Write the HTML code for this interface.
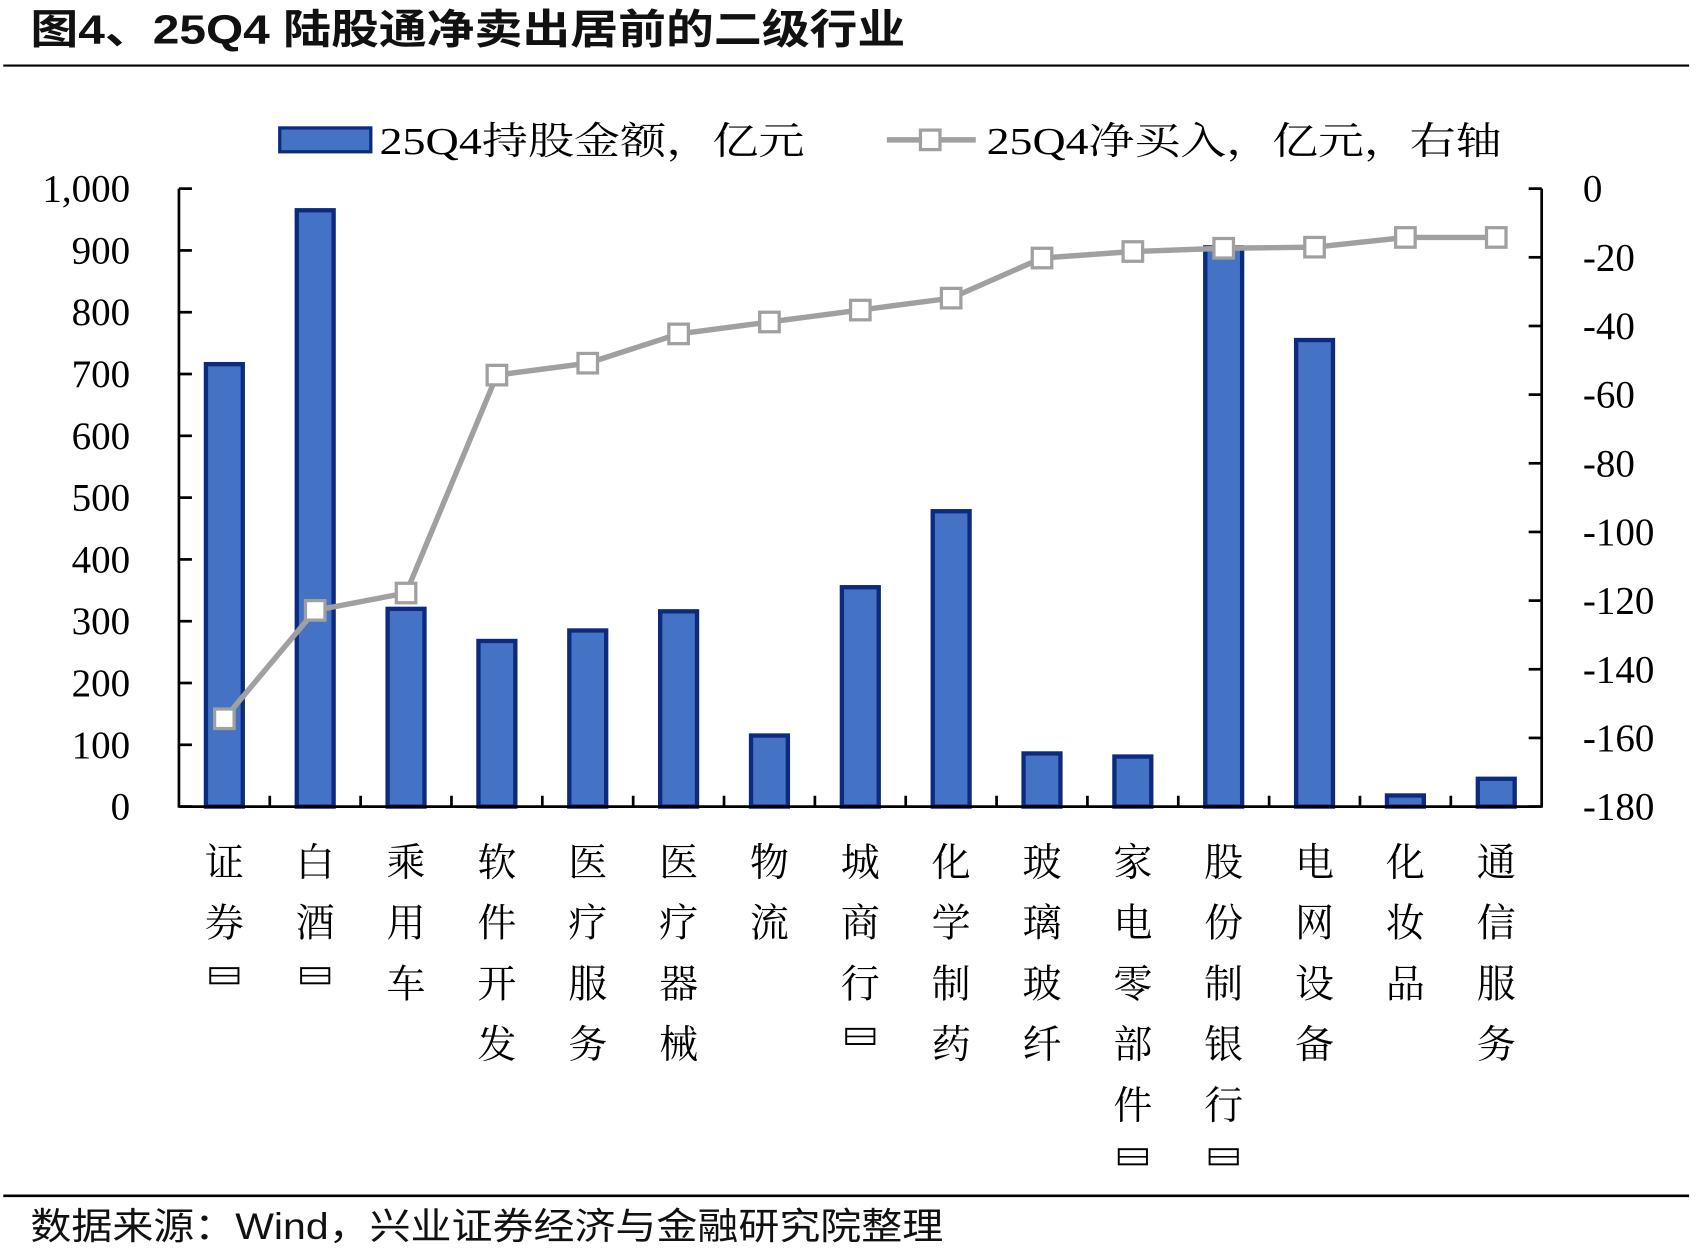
<!DOCTYPE html>
<html><head><meta charset="utf-8"><style>html,body{margin:0;padding:0;background:#fff}svg{display:block}</style></head>
<body>
<svg width="1700" height="1250" viewBox="0 0 1568 1153" xmlns="http://www.w3.org/2000/svg">
<rect width="1568" height="1153" fill="#fff"/>
<text x="28" y="40" textLength="807" lengthAdjust="spacingAndGlyphs" font-family="'Liberation Sans','Noto Sans CJK SC',sans-serif" font-weight="bold" font-size="38" fill="#111">图4、25Q4 陆股通净卖出居前的二级行业</text>
<line x1="3" y1="60.5" x2="1558" y2="60.5" stroke="#000" stroke-width="2"/>
<line x1="3" y1="1103" x2="1558" y2="1103" stroke="#000" stroke-width="2.5"/>
<text x="28" y="1143" textLength="842" lengthAdjust="spacingAndGlyphs" font-family="'Liberation Sans','Noto Sans CJK SC',sans-serif" font-size="34" fill="#111">数据来源：Wind，兴业证券经济与金融研究院整理</text>
<g font-family="'Liberation Serif','Noto Serif CJK SC',serif" font-size="35" fill="#000">
<rect x="258" y="118" width="84" height="22" fill="#4472C4" stroke="#0C2B7E" stroke-width="3"/>
<text x="350" y="142" textLength="392" lengthAdjust="spacingAndGlyphs">25Q4持股金额，亿元</text>
<line x1="818" y1="129" x2="900" y2="129" stroke="#A0A0A0" stroke-width="5"/>
<rect x="849" y="120" width="18" height="18" fill="#fff" stroke="#A0A0A0" stroke-width="3"/>
<text x="910" y="142" textLength="475" lengthAdjust="spacingAndGlyphs">25Q4净买入，亿元，右轴</text>
</g>
<g id="chart"></g>
<script>
const g=document.getElementById('chart');const NS='http://www.w3.org/2000/svg';
function el(t,a,txt){const e=document.createElementNS(NS,t);for(const k in a)e.setAttribute(k,a[k]);if(txt!=null)e.textContent=txt;g.appendChild(e);return e;}
const L=165,R=1422,T=174,B=744,step=(R-L)/15;
const vals=[716,965,320,268,285,316,115,355,478,86,81,905,755,18,45];
const ly=[663,563,547,346,335,308,297,286,275,238,232,229,228,219,219];
const names=[["证","券","□"],["白","酒","□"],["乘","用","车"],["软","件","开","发"],["医","疗","服","务"],["医","疗","器","械"],["物","流"],["城","商","行","□"],["化","学","制","药"],["玻","璃","玻","纤"],["家","电","零","部","件","□"],["股","份","制","银","行","□"],["电","网","设","备"],["化","妆","品"],["通","信","服","务"]];
vals.forEach((v,i)=>{const cx=L+step*(i+0.5);const y=B-v*0.57;el('rect',{x:cx-17,y:y,width:34,height:B-y,fill:'#4472C4',stroke:'#0C2B7E','stroke-width':4});
names[i].forEach((c,j)=>{const yy=808+j*56;if(c==='□'){const by=j===5?1060:yy-27;el('rect',{x:cx-13,y:by,width:26,height:14,fill:'none',stroke:'#000','stroke-width':1.8});el('line',{x1:cx-13,y1:by+7,x2:cx+13,y2:by+7,stroke:'#000','stroke-width':1.5});}else el('text',{x:cx,y:yy,'text-anchor':'middle','font-family':"'Liberation Serif','Noto Serif CJK SC',serif",'font-size':36},c);});});
el('line',{x1:L,y1:T,x2:L,y2:B+1,stroke:'#000','stroke-width':2.5});
el('line',{x1:R,y1:T,x2:R,y2:B+1,stroke:'#000','stroke-width':2.5});
el('line',{x1:L,y1:B,x2:R,y2:B,stroke:'#000','stroke-width':2.5});
for(let i=0;i<=10;i++){const y=B-i*57;el('line',{x1:L,y1:y,x2:L+12,y2:y,stroke:'#000','stroke-width':2.5});el('text',{x:120,y:y+12,'text-anchor':'end','font-family':"'Liberation Serif',serif",'font-size':36},i===10?'1,000':String(i*100));}
for(let i=0;i<=9;i++){const y=T+i*(B-T)/9;el('line',{x1:R-12,y1:y,x2:R,y2:y,stroke:'#000','stroke-width':2.5});el('text',{x:1460,y:y+12,'font-family':"'Liberation Serif',serif",'font-size':36},i===0?'0':String(-20*i));}
for(let i=1;i<15;i++){const x=L+step*i;el('line',{x1:x,y1:B-10,x2:x,y2:B,stroke:'#000','stroke-width':2.5});}
el('polyline',{points:ly.map((y,i)=>(L+step*(i+0.5))+','+y).join(' '),fill:'none',stroke:'#A0A0A0','stroke-width':5});
ly.forEach((y,i)=>{const cx=L+step*(i+0.5);el('rect',{x:cx-9,y:y-9,width:18,height:18,fill:'#fff',stroke:'#A0A0A0','stroke-width':3});});
</script>
</svg>
</body></html>
